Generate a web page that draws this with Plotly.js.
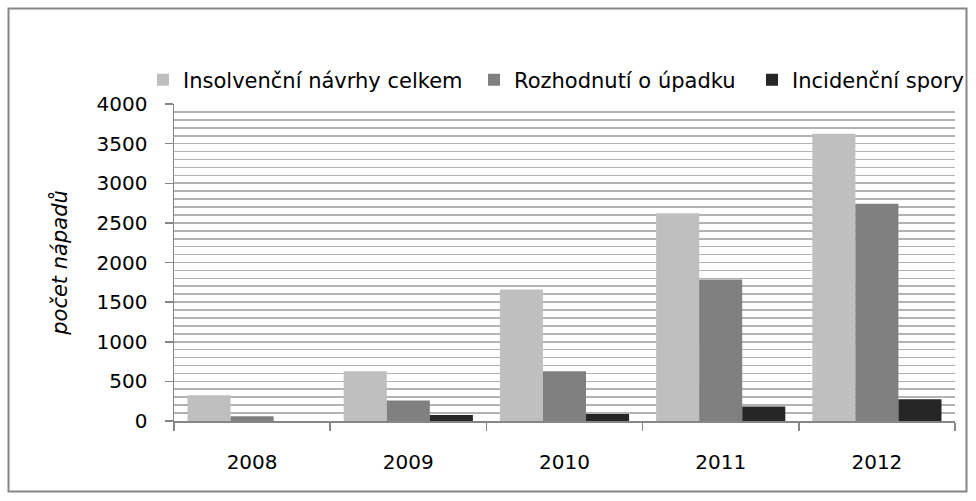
<!DOCTYPE html>
<html>
<head>
<meta charset="utf-8">
<script src="https://cdn.plot.ly/plotly-3.0.1.min.js"></script>
<style>
html,body{margin:0;padding:0;background:#fff;}
#chart{width:976px;height:501px;}
</style>
</head>
<body>
<div id="chart"></div>
<script>
var years = ["2008", "2009", "2010", "2011", "2012"];
var seriesNames = ["Insolvenční návrhy celkem", "Rozhodnutí o úpadku", "Incidenční spory"];
var insolvencniNavrhy = [325, 628, 1660, 2623, 3625];
var rozhodnutiOUpadku = [60, 258, 628, 1786, 2741];
var incidencniSpory = [0, 75, 88, 182, 274];
var seriesColors = ["#bfbfbf", "#808080", "#262626"];
var yTitle = "počet nápadů";

var font = "DejaVu Sans, sans-serif";
var values = [insolvencniNavrhy, rozhodnutiOUpadku, incidencniSpory];
var legendIds = ["legend", "legend2", "legend3"];
var traces = values.map(function (v, i) {
  return {
    type: "bar",
    x: years,
    y: v,
    name: seriesNames[i],
    legend: legendIds[i],
    marker: {color: seriesColors[i], line: {width: 0}},
    hoverinfo: "x+y+name"
  };
});

var L = 174, R = 21, T = 104, B = 80, W = 976, H = 501;
var pw = W - L - R, ph = H - T - B;
function px(x) { return (x - L) / pw; }
function py(y) { return (H - B - y) / ph; }

function legendAt(xpx) {
  return {
    orientation: "h",
    x: px(xpx), xanchor: "left",
    y: py(80), yanchor: "middle",
    font: {family: font, size: 21, color: "#000"},
    bgcolor: "rgba(0,0,0,0)"
  };
}

var layout = {
  width: W, height: H,
  margin: {l: L, r: R, t: T, b: B, pad: 0, autoexpand: false},
  paper_bgcolor: "#ffffff",
  plot_bgcolor: "#ffffff",
  font: {family: font, size: 20, color: "#000000"},
  barmode: "group",
  bargap: 0.173,
  bargroupgap: 0,
  showlegend: true,
  legend: legendAt(143),
  legend2: legendAt(474),
  legend3: legendAt(752),
  xaxis: {
    type: "category",
    showline: true, linecolor: "#868686", linewidth: 1.5,
    ticks: "outside", tickson: "boundaries", ticklen: 8, tickcolor: "#868686", tickwidth: 1.5,
    ticklabelstandoff: 22,
    tickfont: {family: font, size: 20, color: "#000"},
    showgrid: false, zeroline: false
  },
  yaxis: {
    range: [0, 4000],
    dtick: 500, tick0: 0,
    showline: true, linecolor: "#868686", linewidth: 1.5,
    ticks: "outside", ticklen: 8, tickcolor: "#868686", tickwidth: 1.5,
    ticklabelstandoff: 13,
    tickfont: {family: font, size: 20, color: "#000"},
    showgrid: true, gridcolor: "#b3b3b3", gridwidth: 1.6,
    minor: {dtick: 100, showgrid: true, gridcolor: "#b3b3b3", gridwidth: 1.6},
    zeroline: false,
    title: {text: yTitle, font: {family: font, size: 21, color: "#000", style: "italic"}, standoff: 23}
  },
  shapes: [{
    type: "rect", xref: "paper", yref: "paper",
    x0: px(8.5), x1: px(966.5), y0: py(491.5), y1: py(8.5),
    line: {color: "#868686", width: 2}, fillcolor: "rgba(0,0,0,0)", layer: "below"
  }]
};

Plotly.newPlot("chart", traces, layout, {displayModeBar: false, staticPlot: true});
</script>
</body>
</html>
